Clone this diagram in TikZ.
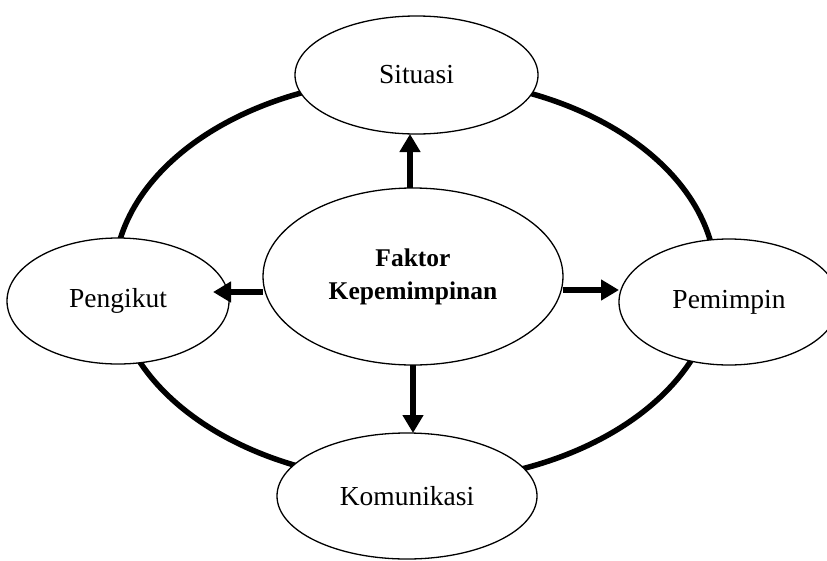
\documentclass[tikz,border=0pt]{standalone}
\usepackage{fontspec}
\setmainfont{Liberation Serif}
\usetikzlibrary{shapes.geometric,arrows.meta}
\begin{document}
\begin{tikzpicture}[x=1pt,y=-1pt,
  bubble/.style={ellipse,draw,line width=1.3pt,fill=white,inner sep=0pt,outer sep=0pt,
    font=\fontsize{27.5}{32}\selectfont},
  ring/.style={line width=5.5pt},
  arr/.style={line width=6pt,-{Triangle[length=18pt,width=20pt]}}]
\useasboundingbox[fill=white] (0,0) rectangle (827,560);
\coordinate (rc) at (415,280);
\draw[ring] (rc) ellipse [x radius=301, y radius=202];
\node[bubble,minimum width=243pt,minimum height=118pt] (s) at (416.5,75) {Situasi};
\node[bubble,minimum width=222pt,minimum height=126pt] (p) at (118,301) {Pengikut};
\node[bubble,minimum width=220pt,minimum height=126pt] (m) at (729,302) {Pemimpin};
\node[bubble,minimum width=260pt,minimum height=126pt] (k) at (407,496) {Komunikasi};
\node[bubble,minimum width=300pt,minimum height=177pt,align=center,
  font=\fontsize{25.5}{33}\selectfont\bfseries] (c) at (413,276.5) {Faktor\\Kepemimpinan};
\coordinate (ptip) at ([xshift=-16pt]p.east);
\draw[arr] ([xshift=-3pt]c.north) -- ([xshift=-3pt]c.north |- s.south);
\draw[arr] ([yshift=-15.5pt]c.west) -- ([yshift=-15.5pt]c.west -| ptip);
\draw[arr] ([yshift=-13.5pt]c.east) -- ([yshift=-13.5pt]c.east -| m.west);
\draw[arr] (c.south) -- (c.south |- k.north);
\end{tikzpicture}
\end{document}
